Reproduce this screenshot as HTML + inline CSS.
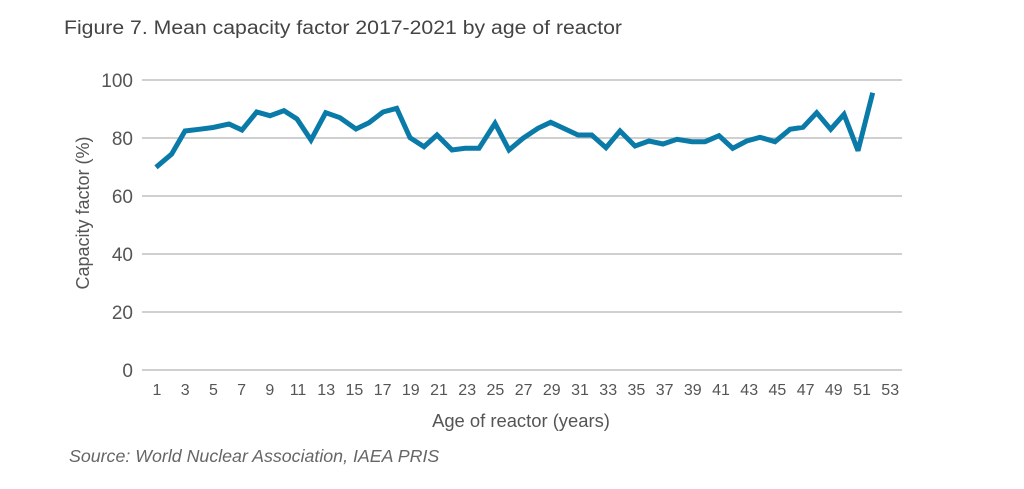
<!DOCTYPE html>
<html><head><meta charset="utf-8"><style>
html,body{margin:0;padding:0;background:#fff;}
svg{display:block;font-family:"Liberation Sans",Arial,sans-serif;}
</style></head><body>
<svg width="1024" height="489" viewBox="0 0 1024 489" xmlns="http://www.w3.org/2000/svg">
<text x="64" y="34" font-size="19" fill="#444" textLength="558" lengthAdjust="spacingAndGlyphs">Figure 7. Mean capacity factor 2017-2021 by age of reactor</text>
<g stroke="#c0c0c0" stroke-width="1.5">
<line x1="142" y1="80" x2="902" y2="80"/>
<line x1="142" y1="138" x2="902" y2="138"/>
<line x1="142" y1="196" x2="902" y2="196"/>
<line x1="142" y1="254" x2="902" y2="254"/>
<line x1="142" y1="312" x2="902" y2="312"/>
<line x1="142" y1="370" x2="902" y2="370"/>
</g>
<g font-size="19" fill="#555" text-anchor="end">
<text x="133" y="87">100</text><text x="133" y="145">80</text><text x="133" y="203">60</text>
<text x="133" y="261">40</text><text x="133" y="319">20</text><text x="133" y="377">0</text>
</g>
<g font-size="16" fill="#555" text-anchor="middle">
<text x="157" y="395">1</text><text x="185.2" y="395">3</text><text x="213.4" y="395">5</text><text x="241.6" y="395">7</text><text x="269.8" y="395">9</text><text x="298" y="395">11</text><text x="326.2" y="395">13</text><text x="354.4" y="395">15</text><text x="382.6" y="395">17</text><text x="410.8" y="395">19</text><text x="439" y="395">21</text><text x="467.2" y="395">23</text><text x="495.4" y="395">25</text><text x="523.6" y="395">27</text><text x="551.8" y="395">29</text><text x="580" y="395">31</text><text x="608.2" y="395">33</text><text x="636.4" y="395">35</text><text x="664.6" y="395">37</text><text x="692.8" y="395">39</text><text x="721" y="395">41</text><text x="749.2" y="395">43</text><text x="777.4" y="395">45</text><text x="805.6" y="395">47</text><text x="833.8" y="395">49</text><text x="862" y="395">51</text><text x="890.2" y="395">53</text>
</g>
<text x="521" y="427" font-size="18.4" fill="#555" text-anchor="middle">Age of reactor (years)</text>
<text transform="translate(89,213) rotate(-90)" font-size="18" fill="#555" text-anchor="middle">Capacity factor (%)</text>
<text x="69" y="462" font-size="17.8" fill="#666" font-style="italic">Source: World Nuclear Association, IAEA PRIS</text>
<polyline fill="none" stroke="#0a7aa8" stroke-width="5" stroke-linejoin="miter" stroke-miterlimit="3" points="156,167.3 171.7,154 185,131 199,129.3 213,127.5 229,124 242,130 256.7,112 270,115.7 284,110.7 297,119 311,140 325.7,112.7 340,117.7 356,129 369,122.7 383,112 396.7,108.3 410,137.7 424,146.7 437,135 452,150 465,148.3 479,148.3 495,123.3 509,150 523,138.3 538,128.3 550.7,122.3 563,128 578,135 591.7,135 606,147.7 620,131 635,146 649,141 663,144 677,139.3 692,141.7 705,141.7 719,135.7 732.7,148.3 746.7,141 760,137.3 775,141.7 790,129.3 803,127.3 816.7,112.7 830.7,129.3 844,114.3 858,150.7 872.7,92.7"/>
</svg>
</body></html>
